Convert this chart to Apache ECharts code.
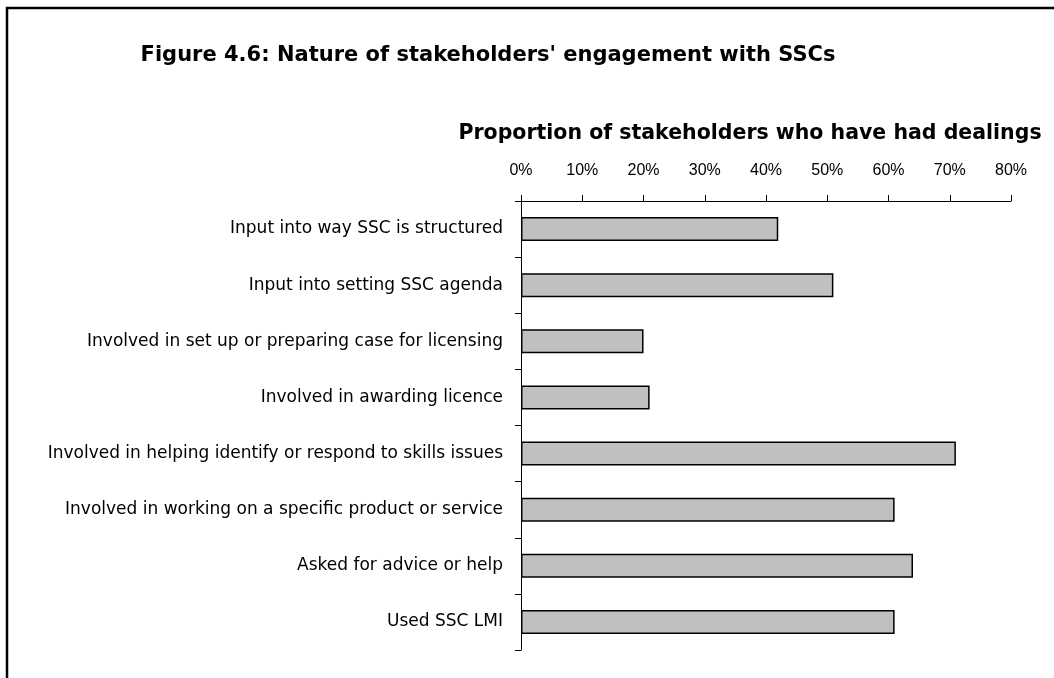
<!DOCTYPE html>
<html>
<head>
<meta charset="utf-8">
<script src="https://cdn.jsdelivr.net/npm/echarts@6/dist/echarts.min.js"></script>
<style>
  html, body { margin: 0; padding: 0; background: #fff; }
  #chart { width: 1054px; height: 678px; }
</style>
</head>
<body>
<div id="chart"></div>
<script>
var categories = [
  "Input into way SSC is structured",
  "Input into setting SSC agenda",
  "Involved in set up or preparing case for licensing",
  "Involved in awarding licence",
  "Involved in helping identify or respond to skills issues",
  "Involved in working on a specific product or service",
  "Asked for advice or help",
  "Used SSC LMI"
];
var proportions = [42, 51, 20, 21, 71, 61, 64, 61];
var axisMin = 0;
var axisMax = 80;
var axisStep = 10;

var chart = echarts.init(document.getElementById("chart"));
var font = "'Liberation Sans', Arial, sans-serif";
var wideFont = "'DejaVu Sans', sans-serif"; // closer to the spaced-out look of the original

var option = {
  animation: false,
  textStyle: { fontFamily: font },
  title: {
    text: "Figure 4.6: Nature of stakeholders' engagement with SSCs",
    left: 483,
    top: 40,
    textAlign: "center",
    textStyle: { fontFamily: wideFont, fontSize: 21, fontWeight: "bold", color: "#000" }
  },
  graphic: [
    {
      // outer frame, right and bottom edges run off the page
      type: "rect",
      shape: { x: 7, y: 8, width: 1100, height: 720 },
      style: { fill: "none", stroke: "#000", lineWidth: 2.5 },
      silent: true
    }
  ],
  grid: {
    left: 521,
    right: 43,
    top: 201,
    bottom: 28
  },
  xAxis: {
    type: "value",
    position: "top",
    min: axisMin,
    max: axisMax,
    interval: axisStep,
    name: "Proportion of stakeholders who have had dealings",
    nameLocation: "middle",
    nameGap: 57,
    nameTextStyle: {
      fontFamily: wideFont,
      fontSize: 20.5,
      fontWeight: "bold",
      color: "#000",
      padding: [0, 32, 0, 0]
    },
    axisLine: { show: true, lineStyle: { color: "#000", width: 1 } },
    axisTick: { show: true, length: 6, lineStyle: { color: "#000" } },
    axisLabel: {
      formatter: "{value}%",
      fontFamily: font,
      fontSize: 16,
      color: "#000",
      margin: 22
    },
    splitLine: { show: false }
  },
  yAxis: {
    type: "category",
    inverse: true,
    data: categories,
    axisLine: { show: true, lineStyle: { color: "#000", width: 1 } },
    axisTick: { show: true, length: 6, lineStyle: { color: "#000" } },
    axisLabel: {
      fontFamily: wideFont,
      fontSize: 17,
      color: "#000",
      margin: 18
    },
    splitLine: { show: false }
  },
  series: [
    {
      type: "bar",
      data: proportions,
      barWidth: 24,
      itemStyle: {
        color: "#c0c0c0",
        borderColor: "#000",
        borderWidth: 1.5
      }
    }
  ]
};

chart.setOption(option);
</script>
</body>
</html>
